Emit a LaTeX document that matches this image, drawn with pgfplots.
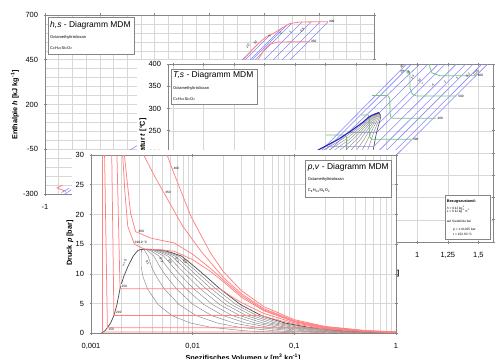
\documentclass[border=0pt]{standalone}
\usepackage{fontspec}
\setmainfont{Liberation Sans}
\usepackage{pgfplots}
\usepackage{pgfplotstable}
\pgfplotsset{compat=1.18}

\definecolor{gridc}{RGB}{215,215,215}
\definecolor{framec}{RGB}{134,134,134}
\definecolor{isoT}{RGB}{255,130,130}
\definecolor{isoP}{RGB}{135,135,255}
\definecolor{satL}{RGB}{35,35,190}
\definecolor{isoH}{RGB}{120,195,120}
\definecolor{domec}{RGB}{75,75,75}
\definecolor{qualc}{RGB}{135,135,135}

\newcommand{\ticklab}{\fontsize{7.5}{8}\selectfont}
\newcommand{\alab}{\fontsize{7.3}{8}\selectfont\bfseries}
\newcommand{\ttl}{\fontsize{8.5}{9}\selectfont}
\newcommand{\mini}{\fontsize{4}{4.5}\selectfont}
\newcommand{\micro}{\fontsize{3.2}{3.6}\selectfont}

% p,v saturation: p, liquid v, vapour v, quality lines x=0.1..0.9
\pgfplotstableread{
p vl vv q1 q2 q3 q4 q5 q6 q7 q8 q9
0.0 0.00127 1.0 0.1012 0.201 0.3009 0.4007 0.5006 0.6005 0.7004 0.8003 0.9001
0.12 0.00128 1.0 0.1012 0.201 0.3009 0.4007 0.5006 0.6005 0.7004 0.8003 0.9001
0.159 0.0013 0.775 0.0787 0.156 0.2334 0.3108 0.388 0.4655 0.5429 0.6203 0.6976
0.223 0.00132 0.557 0.0569 0.1125 0.168 0.2236 0.2792 0.3347 0.3903 0.4459 0.5014
0.416 0.00137 0.316 0.0328 0.0643 0.0958 0.1272 0.1587 0.1902 0.2216 0.2531 0.2845
1.013 0.00146 0.1374 0.01505 0.02865 0.04224 0.05584 0.06943 0.08302 0.09662 0.1102 0.1238
1.736 0.00156 0.0808 0.00948 0.01741 0.02533 0.03326 0.04118 0.0491 0.05703 0.06495 0.07288
2.98 0.00168 0.0474 0.00625 0.01082 0.0154 0.01997 0.02454 0.02911 0.03368 0.03826 0.04283
4.835 0.0018 0.0295 0.00457 0.00734 0.01011 0.01288 0.01565 0.01842 0.02119 0.02396 0.02673
7.5 0.00193 0.0185 0.00359 0.00524 0.0069 0.00856 0.01022 0.01187 0.01353 0.01519 0.01684
9.57 0.0021 0.0135 0.00324 0.00438 0.00552 0.00666 0.0078 0.00894 0.01008 0.01122 0.01236
11.18 0.0023 0.0105 0.00312 0.00394 0.00476 0.00558 0.0064 0.00722 0.00804 0.00886 0.00968
12.98 0.0026 0.0078 0.00312 0.00364 0.00416 0.00468 0.0052 0.00572 0.00624 0.00676 0.00728
13.5 0.00275 0.0064 0.00312 0.00348 0.00385 0.00421 0.00458 0.00494 0.00531 0.00567 0.00604
13.96 0.0029 0.0052 0.00313 0.00336 0.00359 0.00382 0.00405 0.00428 0.00451 0.00474 0.00497
14.1 0.0031 0.0041 0.0032 0.0033 0.0034 0.0035 0.0036 0.0037 0.0038 0.0039 0.0040
14.15 0.00335 0.00335 0.00335 0.00335 0.00335 0.00335 0.00335 0.00335 0.00335 0.00335 0.00335
}\pvsat

% T,s saturation: T, liquid s, vapour s, quality lines
\pgfplotstableread{
T sl sv q1 q2 q3 q4 q5 q6 q7 q8 q9
0 -0.82 0.20 -0.718 -0.616 -0.514 -0.412 -0.31 -0.208 -0.106 -0.004 0.098
50 -0.52 0.31 -0.437 -0.354 -0.271 -0.188 -0.105 -0.022 0.061 0.144 0.227
100 -0.25 0.43 -0.182 -0.114 -0.046 0.022 0.09 0.158 0.226 0.294 0.362
150 -0.02 0.55 0.037 0.094 0.151 0.208 0.265 0.322 0.379 0.436 0.493
207 0.19 0.64 0.235 0.28 0.325 0.37 0.415 0.46 0.505 0.55 0.595
230 0.35 0.655 0.3805 0.411 0.4415 0.472 0.5025 0.533 0.5635 0.594 0.6245
250 0.46 0.67 0.481 0.502 0.523 0.544 0.565 0.586 0.607 0.628 0.649
268 0.55 0.69 0.564 0.578 0.592 0.606 0.62 0.634 0.648 0.662 0.676
280 0.60 0.70 0.61 0.62 0.63 0.64 0.65 0.66 0.67 0.68 0.69
285 0.63 0.70 0.637 0.644 0.651 0.658 0.665 0.672 0.679 0.686 0.693
290.9 0.685 0.685 0.685 0.685 0.685 0.685 0.685 0.685 0.685 0.685 0.685
}\tssat

\pgfplotsset{
  chart/.style={
    scale only axis, anchor=south west,
    axis line style={draw=framec, line width=0.9bp},
    tick style={draw=framec, line width=0.6bp},
    tick align=center, major tick length=3bp, minor tick length=0bp,
    grid=both,
    major grid style={draw=gridc, line width=0.5bp},
    minor grid style={draw=gridc, line width=0.5bp},
    tick label style={font=\ticklab},
    /pgf/number format/use comma,
    /pgf/number format/assume math mode=true,
    xticklabel style={yshift=-5bp},
    yticklabel style={xshift=-2bp},
    every axis plot/.append style={no markers},
  }
}

\begin{document}
\begin{tikzpicture}[x=1bp,y=1bp]
\useasboundingbox (0,0) rectangle (496,358);
\fill[white] (0,0) rectangle (496,358);

%================ h,s diagram =================
\begin{axis}[chart, at={(45bp,164bp)}, width=329bp, height=179bp,
  xmin=-1, xmax=2, ymin=-300, ymax=700,
  xtick={-1,-0.5,0,0.5,1,1.5,2}, minor x tick num=3,
  ytick={-300,-50,200,450,700}, minor y tick num=4]
  \addplot[isoP, line width=0.6bp] coordinates {(0.705,392.8)(0.960,549.2)};
  \addplot[isoP, line width=0.6bp] coordinates {(0.732,392.8)(1.052,588.3)};
  \addplot[isoP, line width=0.6bp] coordinates {(0.778,392.8)(1.161,627.4)};
  \addplot[isoP, line width=0.6bp] coordinates {(0.796,392.8)(1.207,644.2)};
  \addplot[isoP, line width=0.6bp] coordinates {(0.824,392.8)(1.252,655.4)};
  \addplot[isoP, line width=0.6bp] coordinates {(0.906,392.8)(1.343,661)};
  \addplot[isoP, line width=0.6bp] coordinates {(0.988,392.8)(1.425,661)};
  \addplot[isoP, line width=0.6bp] coordinates {(1.070,392.8)(1.508,661)};
  \addplot[isoP, line width=0.6bp] coordinates {(1.143,392.8)(1.580,661)};
  \addplot[isoT, line width=0.8bp] coordinates {(0.75,400)(0.805,448.7)(0.888,504.5)(0.960,549.2)(1.015,577.2)(1.090,599.5)(1.161,627.4)(1.234,652.6)(1.325,661)(1.580,662.6)};
  \addplot[isoT, line width=0.8bp] coordinates {(0.90,400)(0.942,448.7)(0.997,504.5)(1.052,538)(1.125,549.2)(1.416,550.9)};
  \addplot[isoT, line width=0.8bp] coordinates {(-0.84,-250)(-0.89,-266)(-0.81,-285)};
  \addplot[isoP, line width=0.6bp] coordinates {(-0.85,-292)(-0.78,-268)};
  \addplot[isoP, line width=0.6bp] coordinates {(-0.82,-300)(-0.76,-276)};
  \addplot[isoP, line width=0.6bp] coordinates {(-0.235,-58)(-0.16,-30)};
  \node[font=\micro, anchor=west, inner sep=0.5bp] at (axis cs:1.585,662) {400};
  \node[font=\micro, anchor=west, inner sep=0.5bp] at (axis cs:1.42,551) {350};
  \node[font=\micro, rotate=45, anchor=south, inner sep=0.4bp] at (axis cs:0.86,520) {20};
  \node[font=\micro, rotate=45, anchor=south, inner sep=0.4bp] at (axis cs:0.93,540) {10};
  \node[font=\micro, rotate=45, anchor=south, inner sep=0.4bp] at (axis cs:1.06,575) {5};
  \node[font=\micro, rotate=45, anchor=south, inner sep=0.4bp] at (axis cs:1.16,590) {2};
  \node[font=\micro, rotate=45, anchor=south, inner sep=0.4bp] at (axis cs:1.25,595) {1};
  \node[font=\micro, rotate=45, anchor=south, inner sep=0.4bp] at (axis cs:1.36,605) {0,5};
\end{axis}
\node[rotate=90, font=\alab] at (15,253) {Enthalpie \textit{h} [kJ kg\textsuperscript{-1}]};
\draw[framec, line width=0.9bp, fill=white] (48,304) rectangle (134,341);
\node[anchor=base west, inner sep=0, font=\ttl] at (50,331) {\textit{h,s} - Diagramm MDM};
\node[anchor=base west, inner sep=0, font=\mini] at (50,320) {Octamethyltrisiloxan};
\node[anchor=base west, inner sep=0, font=\mini] at (50,309) {C\textsubscript{8}H\textsubscript{24}Si\textsubscript{3}O\textsubscript{2}};

%================ T,s diagram =================
\fill[white] (137,78) rectangle (496,298);
\begin{axis}[chart, at={(168bp,116bp)}, width=325bp, height=178bp,
  xmin=-1.04, xmax=1.62, ymin=0, ymax=400,
  xtick={-1,-0.75,-0.5,-0.25,0,0.25,0.5,0.75,1,1.25,1.5},
  ytick={0,50,100,150,200,250,300,350,400}]
  \addplot[isoP, line width=0.6bp] coordinates {(-0.03,150)(0.22,207)(0.913,400)};
  \addplot[isoP, line width=0.6bp] coordinates {(-0.025,150)(0.25,207)(0.954,400)};
  \addplot[isoP, line width=0.6bp] coordinates {(-0.022,150)(0.285,207)(1.022,400)};
  \addplot[isoP, line width=0.6bp] coordinates {(0.677,290)(0.687,290)(1.0885,400)};
  \addplot[isoP, line width=0.6bp] coordinates {(0.549,267.8)(0.69,267.8)(1.1725,400)};
  \addplot[isoP, line width=0.6bp] coordinates {(0.4375,245.9)(0.667,245.9)(1.2294,400)};
  \addplot[isoP, line width=0.6bp] coordinates {(0.245,214.9)(0.645,214.9)(1.3205,400)};
  \addplot[isoP, line width=0.6bp] coordinates {(0.095,181.3)(0.599,181.3)(1.3972,400)};
  \addplot[isoP, line width=0.6bp] coordinates {(-0.013,152)(0.553,152)(1.458,400)};
  \addplot[isoP, line width=0.6bp] coordinates {(-0.268,96.7)(0.422,96.7)(1.5289,400)};
  \addplot[isoP, line width=0.6bp] coordinates {(-0.469,59.5)(0.333,59.5)(1.5757,400)};
  \addplot[isoH, line width=0.8bp] coordinates {(0.25,240.4)(0.41,240.4)(0.422,235)(0.422,200)(0.43,185)(0.45,178)(0.75,178)};
  \addplot[isoH, line width=0.8bp] coordinates {(0.539,285.3)(0.60,285.3)(0.606,280)(0.607,250)(0.612,236)(0.629,230.7)(0.954,230.7)};
  \addplot[isoH, line width=0.8bp] coordinates {(0.63,329)(0.76,329)(0.775,322)(0.777,290)(0.785,280)(0.80,277.9)(1.153,277.9)};
  \addplot[isoH, line width=0.8bp] coordinates {(0.88,386)(0.93,384)(0.94,375)(0.94,346)(0.96,332)(0.995,328)(1.322,328)};
  \addplot[isoH, line width=0.8bp] coordinates {(1.10,400)(1.104,392)(1.12,380)(1.186,373.6)(1.486,373.6)};
  \pgfplotsinvokeforeach{q1,q2,q3,q4,q5,q6,q7,q8,q9}{
    \addplot[qualc, line width=0.4bp] table[x=#1, y=T]{\tssat};
  }
  \addplot[domec, line width=0.6bp] table[x=sv, y=T]{\tssat};
  \addplot[satL, line width=1.1bp] table[x=sl, y=T]{\tssat};
  \node[font=\micro, anchor=west, inner sep=0.5bp] at (axis cs:0.96,230.7) {300};
  \node[font=\micro, anchor=west, inner sep=0.5bp] at (axis cs:1.16,277.9) {400};
  \node[font=\micro, anchor=west, inner sep=0.5bp] at (axis cs:1.33,328) {500};
  \node[font=\micro, anchor=west, inner sep=0.5bp] at (axis cs:1.49,373.6) {600};
  \node[font=\micro, rotate=45, anchor=south, inner sep=0.4bp] at (axis cs:0.884,392) {30};
  \node[font=\micro, rotate=45, anchor=south, inner sep=0.4bp] at (axis cs:0.885,381) {25};
  \node[font=\micro, rotate=45, anchor=south, inner sep=0.4bp] at (axis cs:0.938,378) {20};
  \node[font=\micro, rotate=45, anchor=south, inner sep=0.4bp] at (axis cs:0.972,368) {14};
  \node[font=\micro, rotate=45, anchor=south, inner sep=0.4bp] at (axis cs:1.027,360) {10};
  \node[font=\micro, rotate=45, anchor=south, inner sep=0.4bp] at (axis cs:1.054,352) {7};
  \node[font=\micro, rotate=45, anchor=south, inner sep=0.4bp] at (axis cs:1.138,350) {4};
  \node[font=\micro, rotate=45, anchor=south, inner sep=0.4bp] at (axis cs:1.237,356) {2};
  \node[font=\micro, rotate=45, anchor=south, inner sep=0.4bp] at (axis cs:1.334,366) {1};
  \node[font=\micro, rotate=45, anchor=south, inner sep=0.4bp] at (axis cs:1.427,372) {0,2};
  \node[font=\micro, rotate=45, anchor=south, inner sep=0.4bp] at (axis cs:1.495,378) {0,05};
\end{axis}
\node[rotate=90, font=\alab] at (143,210) {Temperatur \textit{t} [°C]};
\node[anchor=base east, font=\alab, inner sep=0] at (399.5,83) {Spezifische Entropie \textit{s} [kJ kg\textsuperscript{-1} K\textsuperscript{-1}]};
\draw[framec, line width=0.9bp, fill=white] (171,254) rectangle (257,289);
\node[anchor=base west, inner sep=0, font=\ttl] at (173,280.5) {\textit{T,s} - Diagramm MDM};
\node[anchor=base west, inner sep=0, font=\mini] at (173,269) {Octamethyltrisiloxan};
\node[anchor=base west, inner sep=0, font=\mini] at (173,258) {C\textsubscript{8}H\textsubscript{24}Si\textsubscript{3}O\textsubscript{2}};
\draw[framec, line width=0.9bp, fill=white] (445,118.7) rectangle (490,163);
\node[anchor=base west, inner sep=0, font=\fontsize{3.8}{4}\selectfont\bfseries] at (446.7,155.7) {Bezugszustand:};
\node[anchor=base west, inner sep=0, font=\micro] at (446.7,148.5) {\textit{h} = 0 kJ kg\textsuperscript{-1}};
\node[anchor=base west, inner sep=0, font=\micro] at (446.7,145.2) {\textit{s} = 0 kJ kg\textsuperscript{-1} K\textsuperscript{-1}};
\node[anchor=base west, inner sep=0, font=\micro] at (446.7,135.8) {auf Siedelinie bei};
\node[anchor=base west, inner sep=0, font=\micro] at (453,127.5) {\textit{p} = 1.01325 bar};
\node[anchor=base west, inner sep=0, font=\micro] at (453,122.8) {\textit{t} = 152.63 °C};

%================ p,v diagram =================
\fill[white] (72,0) rectangle (396.5,208);
\begin{axis}[chart, at={(91bp,24.7bp)}, width=305bp, height=178.3bp,
  xmode=log, xmin=0.001, xmax=1, ymin=0, ymax=30,
  xtick={0.001,0.01,0.1,1}, xticklabels={{0,001},{0,01},{0,1},{1}},
  ytick={0,5,10,15,20,25,30}]
  \pgfplotsinvokeforeach{q1,q2,q3,q4,q5,q6,q7,q8,q9}{
    \addplot[qualc, line width=0.45bp] table[x=#1, y=p]{\pvsat};
  }
  \addplot[domec, line width=0.7bp] table[x=vl, y=p]{\pvsat};
  \addplot[domec, line width=0.7bp] table[x=vv, y=p]{\pvsat};
  \addplot[isoT, line width=0.75bp] coordinates {(0.0013,30)(0.0013,0.223)(0.557,0.223)(1,0.124)};
  \addplot[isoT, line width=0.75bp] coordinates {(0.00136,30)(0.00145,0.95)(0.145,0.95)(0.3,0.485)(0.6,0.245)(1,0.148)};
  \addplot[isoT, line width=0.75bp] coordinates {(0.0016,30)(0.00168,2.98)(0.0474,2.98)(0.07,2.2)(0.1,1.576)(0.2,0.81)(0.5,0.329)(1,0.1666)};
  \addplot[isoT, line width=0.75bp] coordinates {(0.0018,30)(0.00193,7.5)(0.0185,7.5)(0.025,6.0)(0.03,5.2)(0.05,3.34)(0.1,1.755)(0.2,0.898)(0.5,0.364)(1,0.184)};
  \addplot[isoT, line width=0.75bp] coordinates {(0.00205,30)(0.00215,24)(0.0023,18)(0.00267,15)(0.00335,14.15)(0.0045,14.1)(0.0066,13.8)(0.01,12.4)(0.015,10.4)(0.02,8.7)(0.03,6.1)(0.05,3.8)(0.1,1.93)(0.2,0.98)(0.5,0.39)(1,0.198)};
  \addplot[isoT, line width=0.75bp] coordinates {(0.00213,30)(0.00245,20.2)(0.00275,17.1)(0.0039,16.0)(0.0066,15.2)(0.01,13.3)(0.015,10.9)(0.02,9.0)(0.03,6.4)(0.05,3.95)(0.1,2.0)(0.2,1.0)(0.5,0.40)(1,0.2)};
  \addplot[isoT, line width=0.75bp] coordinates {(0.0033,30)(0.0042,26.5)(0.00519,23.7)(0.008,18.0)(0.0121,13.8)(0.02,9.4)(0.03,6.7)(0.05,4.15)(0.1,2.12)(0.2,1.08)(0.5,0.435)(1,0.219)};
  \addplot[isoT, line width=0.75bp] coordinates {(0.00561,30)(0.00624,27.8)(0.00966,19.6)(0.015,13.5)(0.02,10.4)(0.03,7.2)(0.05,4.5)(0.1,2.29)(0.2,1.164)(0.5,0.47)(1,0.237)};
  \node[font=\micro, anchor=west, inner sep=0.5bp] at (axis cs:0.0064,27.8) {400};
  \node[font=\micro, anchor=west, inner sep=0.5bp] at (axis cs:0.0053,23.7) {350};
  \node[font=\micro, anchor=west, inner sep=0.5bp] at (axis cs:0.0029,17.1) {300};
  \node[font=\micro, inner sep=0.5bp] at (axis cs:0.0031,15.3) {290,9 °C};
  \node[font=\micro, inner sep=0.5bp, fill=white] at (axis cs:0.00212,7.96) {250};
  \node[font=\micro, inner sep=0.5bp, fill=white] at (axis cs:0.00188,3.47) {200};
  \node[font=\micro, inner sep=0.5bp, fill=white] at (axis cs:0.00158,0.67) {150};
  \node[font=\micro, rotate=70, inner sep=0.3bp] at (axis cs:0.00213,11.8) {x = 0};
  \node[font=\micro, rotate=-60, inner sep=0.3bp] at (axis cs:0.0036,11.9) {0,1};
  \node[font=\micro, rotate=-60, inner sep=0.3bp] at (axis cs:0.0049,12.3) {0,3};
  \node[font=\micro, rotate=-60, inner sep=0.3bp] at (axis cs:0.006,12.05) {0,5};
  \node[font=\micro, rotate=-60, inner sep=0.3bp] at (axis cs:0.007,12.3) {0,7};
  \node[font=\micro, rotate=-60, inner sep=0.3bp] at (axis cs:0.0084,12.05) {0,9};
\end{axis}
\node[rotate=90, font=\alab] at (70,115) {Druck \textit{p} [bar]};
\node[anchor=base, font=\alab, inner sep=0] at (243,-2.8) {Spezifisches Volumen \textit{v} [m\textsuperscript{3} kg\textsuperscript{-1}]};
\draw[framec, line width=0.9bp, fill=white] (305.7,160.7) rectangle (391.7,197.3);
\node[anchor=base west, inner sep=0, font=\ttl] at (307.7,189) {\textit{p,v} - Diagramm MDM};
\node[anchor=base west, inner sep=0, font=\mini] at (307.7,177.3) {Octamethyltrisiloxan};
\node[anchor=base west, inner sep=0, font=\mini] at (307.7,166.5) {C\textsubscript{8}H\textsubscript{24}Si\textsubscript{3}O\textsubscript{2}};
\end{tikzpicture}
\end{document}
